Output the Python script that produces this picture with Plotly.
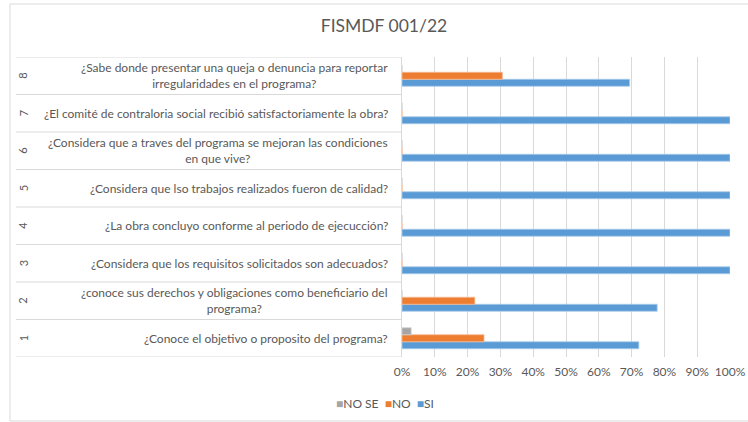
import plotly.graph_objects as go

title = "FISMDF 001/22"
numbers = ["1", "2", "3", "4", "5", "6", "7", "8"]
questions = [
    "¿Conoce el objetivo o proposito del programa?",
    "¿conoce sus derechos y obligaciones como beneficiario del<br>programa?",
    "¿Considera que los requisitos solicitados son adecuados?",
    "¿La obra concluyo conforme al periodo de ejecucción?",
    "¿Considera que lso trabajos realizados fueron de calidad?",
    "¿Considera que a traves del programa se mejoran las condiciones<br>en que vive?",
    "¿El comité de contraloria social recibió satisfactoriamente la obra?",
    "¿Sabe donde presentar una queja o denuncia para reportar<br>irregularidades en el programa?",
]
si = [0.722, 0.778, 1.0, 1.0, 1.0, 1.0, 1.0, 0.694]
no = [0.25, 0.222, 0.0, 0.0, 0.0, 0.0, 0.0, 0.306]
nose = [0.028, 0.0, 0.0, 0.0, 0.0, 0.0, 0.0, 0.0]
series_names = ["SI", "NO", "NO SE"]
series_colors = ["#5B9BD5", "#ED7D31", "#A5A5A5"]
series_edges = ["#A9CBEA", "#F5B890", "#D0D0D0"]

W, H = 748, 422
L, R, T, B = 402, 730, 57, 357
pw, ph = R - L, B - T


def px(x):
    return (x - L) / pw


def py(y):
    return (B - y) / ph


ypos = list(range(1, len(numbers) + 1))
font = "Lato, Carlito, Calibri, sans-serif"
grey_txt = "#595959"

fig = go.Figure()
for name, vals, col, edge in zip(series_names, [si, no, nose], series_colors, series_edges):
    fig.add_trace(go.Bar(
        y=ypos, x=vals, name=name, orientation="h",
        marker=dict(color=col, line=dict(color=edge, width=0.8)),
        hoverinfo="x+name",
    ))

annotations = []
for yv, q, n in zip(ypos, questions, numbers):
    annotations.append(dict(
        x=0, xref="paper", y=yv, yref="y", text=q, showarrow=False,
        xanchor="right", yanchor="middle", align="center", xshift=-12,
        font=dict(family=font, size=12, color=grey_txt),
    ))
    annotations.append(dict(
        x=px(23), xref="paper", y=yv, yref="y", text=n, showarrow=False,
        xanchor="center", yanchor="middle", textangle=-90,
        font=dict(family=font, size=11, color=grey_txt),
    ))

# compact legend (Excel style), listed NO SE, NO, SI
legend_parts = []
for name, col in zip(series_names[::-1], series_colors[::-1]):
    legend_parts.append(f'<span style="color:{col}">■</span>{name}')
annotations.append(dict(
    x=px(385), xref="paper", y=py(403), yref="paper", text="  ".join(legend_parts),
    showarrow=False, xanchor="center", yanchor="middle",
    font=dict(family=font, size=12, color=grey_txt),
))

shapes = []
line_col = "#D9D9D9"
for k in range(len(numbers) + 1):
    yb = 0.5 + k
    shapes.append(dict(type="line", xref="paper", yref="y", x0=px(16), x1=0, y0=yb, y1=yb,
                       line=dict(color=line_col, width=1)))
shapes.append(dict(type="rect", xref="paper", yref="paper", x0=px(10), x1=px(760), y0=py(421), y1=py(4),
                   line=dict(color=line_col, width=1), layer="below"))

fig.update_layout(
    width=W, height=H,
    margin=dict(l=L, r=W - R, t=T, b=H - B, pad=0, autoexpand=False),
    paper_bgcolor="white", plot_bgcolor="white",
    barmode="group", bargap=0.44, bargroupgap=0,
    title=dict(text=title, x=384 / W, xref="container", xanchor="center", y=1 - 26 / H,
               yref="container", yanchor="middle",
               font=dict(family=font, size=17.5, color=grey_txt)),
    xaxis=dict(range=[0, 1], dtick=0.1, tickformat=".0%", showgrid=True, gridcolor=line_col,
               gridwidth=1, zeroline=False, showline=False, ticks="", automargin=False,
               ticklabelstandoff=6,
               tickfont=dict(family=font, size=12, color=grey_txt), fixedrange=True),
    yaxis=dict(range=[0.5, len(numbers) + 0.5], showticklabels=False, showgrid=False, zeroline=False,
               showline=True, linecolor=line_col, linewidth=1, ticks="", automargin=False,
               fixedrange=True),
    annotations=annotations, shapes=shapes, showlegend=False,
)

fig.write_html("out.html", config={"displayModeBar": False},
               post_script="document.body.style.margin='0px';")
